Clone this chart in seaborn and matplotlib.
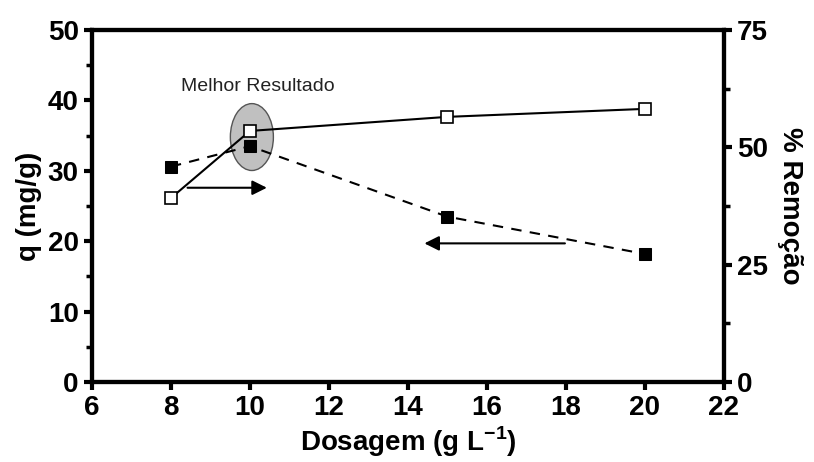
import matplotlib
matplotlib.use('Agg')
import matplotlib.pyplot as plt
from matplotlib.patches import Ellipse
from matplotlib.ticker import MultipleLocator
import pandas as pd
import seaborn as sns

dosagem = [8, 10, 15, 20]
q_mg_g = [30.6, 33.5, 23.5, 18.2]
remocao = [39.2, 53.5, 56.5, 58.2]

sns.set_theme(style='ticks')
plt.rcParams['font.family'] = ['Liberation Sans', 'DejaVu Sans']
plt.rcParams['mathtext.fontset'] = 'custom'
plt.rcParams['mathtext.rm'] = 'Liberation Sans'
plt.rcParams['mathtext.bf'] = 'Liberation Sans:bold'
plt.rcParams['text.color'] = 'black'
plt.rcParams['axes.labelcolor'] = 'black'
plt.rcParams['axes.edgecolor'] = 'black'
plt.rcParams['xtick.color'] = 'black'
plt.rcParams['ytick.color'] = 'black'

df = pd.DataFrame({'dosagem': dosagem, 'q': q_mg_g, 'rem': remocao})

fig = plt.figure(figsize=(8.14, 4.62), dpi=100)
ax = fig.add_axes([0.113, 0.173, 0.776, 0.762])
ax2 = ax.twinx()
ax.set_zorder(ax2.get_zorder() + 1)
ax.patch.set_visible(False)

# highlight ellipse drawn on the right axis, behind both series
ax2.add_patch(Ellipse((10.05, 52.2), 1.09, 14.25, facecolor='#c0c0c0',
                      edgecolor='#555555', lw=1, zorder=0))

sns.lineplot(data=df, x='dosagem', y='q', ax=ax, color='black', lw=1.5,
             linestyle=(0, (5, 4)), marker='s', markersize=8,
             markerfacecolor='black', markeredgecolor='black', zorder=3)
sns.lineplot(data=df, x='dosagem', y='rem', ax=ax2, color='black', lw=1.5,
             marker='s', markersize=8, markerfacecolor='white',
             markeredgecolor='black', markeredgewidth=1.2, zorder=3)

ax.set_xlim(6, 22)
ax.set_ylim(0, 50)
ax2.set_ylim(0, 75)
ax.xaxis.set_major_locator(MultipleLocator(2))
ax.yaxis.set_major_locator(MultipleLocator(10))
ax.yaxis.set_minor_locator(MultipleLocator(5))
ax2.yaxis.set_major_locator(MultipleLocator(25))
ax2.yaxis.set_minor_locator(MultipleLocator(12.5))

ax.text(8.25, 42.0, 'Melhor Resultado', fontsize=14, fontweight='normal',
        color='#222222', va='center', ha='left')
ax.annotate('', xy=(10.5, 27.6), xytext=(8.35, 27.6),
            arrowprops=dict(arrowstyle='-|>', color='black', lw=1.5,
                            mutation_scale=22))
ax.annotate('', xy=(14.35, 19.7), xytext=(18.05, 19.7),
            arrowprops=dict(arrowstyle='-|>', color='black', lw=1.5,
                            mutation_scale=22))

ax.set_xlabel('Dosagem (g L$^{\\mathbf{-1}}$)', fontsize=20, fontweight='bold', labelpad=2)
ax.set_ylabel('q (mg/g)', fontsize=20, fontweight='bold', labelpad=4)
ax2.set_ylabel('% Remoção', fontsize=20, fontweight='bold', rotation=270, labelpad=25)

for a in (ax, ax2):
    for s in a.spines.values():
        s.set_linewidth(3)
        s.set_visible(True)
    a.tick_params(which='major', length=6, width=3, labelsize=20, direction='out')
    a.tick_params(which='minor', length=4, width=2.5, direction='out')
    for lab in a.get_xticklabels() + a.get_yticklabels():
        lab.set_fontweight('bold')

fig.savefig('out.png', dpi=100)
